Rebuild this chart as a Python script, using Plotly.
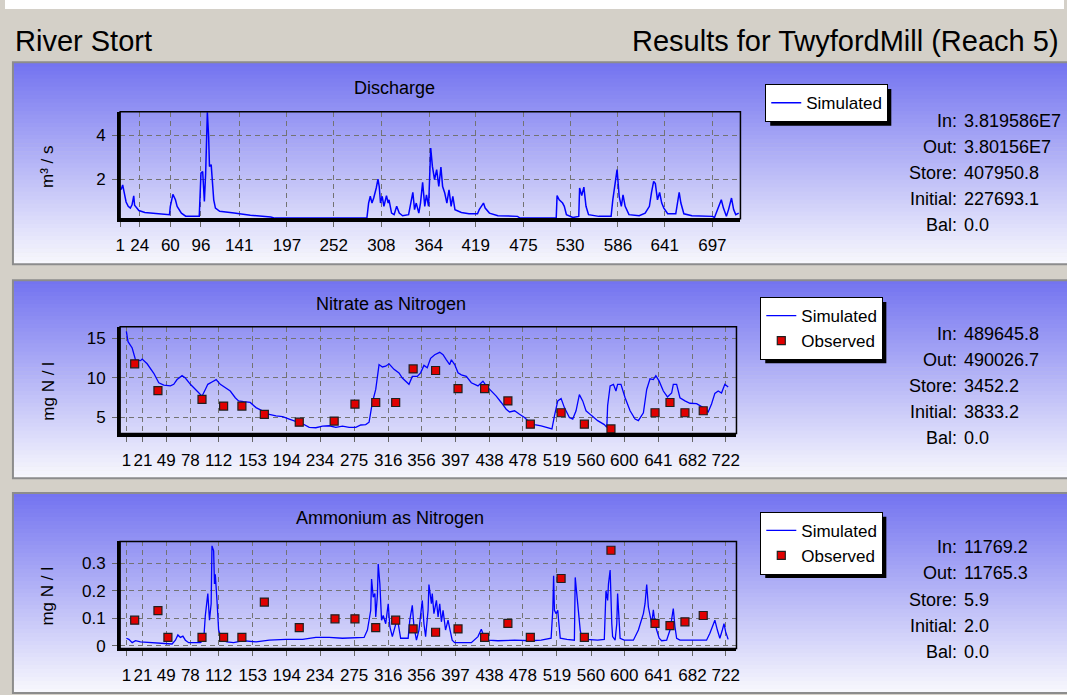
import plotly.graph_objects as go

W, H = 1067, 695

# ---------------- data ----------------
# Discharge (m3/s), simulated
q_days = [1, 2.5, 4, 6, 8, 10.5, 13, 15, 17, 18,
          20, 23, 30, 40, 56, 59, 60, 63, 66, 68,
          73, 78, 94, 96, 98, 100, 101.5, 103.5, 105, 106,
          108, 109, 111, 113, 118, 135, 154, 178, 183, 230,
          291, 293, 295, 297, 299, 302, 304, 305.5, 307, 309,
          311, 314, 316, 317, 320, 323, 326, 329, 333, 340,
          342, 345, 347, 349, 352, 354, 356.5, 359, 361, 363.5,
          366, 368, 370.5, 373, 375.5, 378, 380, 382.5, 385, 387.5,
          390, 392, 394.5, 402, 411, 421, 423, 428, 430, 435,
          445, 468, 471, 513.5, 514.5, 517, 521, 523, 525.5, 533,
          540, 541, 543.5, 546, 548.5, 551.5, 563.5, 578, 580, 582.5,
          585, 587.5, 590, 592, 594.5, 599, 611, 618, 623, 625.5,
          628, 630, 632.5, 635, 637.5, 640, 644.5, 654, 658, 660,
          663.5, 673, 697, 699.5, 704, 707.5, 710, 713.5, 716, 719.5,
          722, 724.5, 728]
q_sim = [1.50, 1.55, 1.73, 1.36, 0.95, 0.75, 0.67, 0.82, 1.23, 0.80,
         0.70, 0.56, 0.47, 0.44, 0.37, 0.37, 0.75, 1.30, 1.05, 0.75,
         0.44, 0.30, 0.30, 2.27, 2.35, 0.97, 2.27, 5.06, 3.95, 2.58,
         2.66, 2.05, 1.05, 0.67, 0.52, 0.44, 0.34, 0.26, 0.21, 0.21,
         0.21, 0.90, 1.21, 0.90, 1.13, 1.59, 2.00, 1.66, 0.90, 1.21,
         0.75, 1.24, 0.90, 1.05, 0.44, 0.37, 0.75, 0.44, 0.32, 0.37,
         0.75, 1.39, 0.60, 0.90, 0.44, 0.90, 1.85, 0.75, 1.28, 0.75,
         3.42, 2.58, 1.97, 2.43, 1.66, 2.55, 1.66, 1.36, 0.90, 1.51,
         0.75, 1.21, 0.60, 0.47, 0.41, 0.41, 0.60, 0.90, 0.67, 0.44,
         0.32, 0.29, 0.21, 0.21, 1.24, 1.05, 0.90, 0.75, 0.37, 0.24,
         0.29, 1.59, 1.24, 1.63, 0.75, 0.37, 0.29, 0.29, 1.05, 1.66,
         2.43, 1.21, 0.75, 1.28, 0.75, 0.37, 0.32, 0.44, 0.75, 1.39,
         1.89, 1.79, 1.05, 1.39, 0.90, 0.67, 0.41, 0.41, 1.39, 0.90,
         0.41, 0.32, 0.29, 0.24, 0.67, 1.05, 0.67, 0.29, 0.60, 1.13,
         0.60, 0.37, 0.44]

# Nitrate as nitrogen (mg N/l)
no3_days = [1, 3, 8, 12, 18, 20, 26, 34, 40, 46,
            54, 58, 62, 68, 72, 78, 86, 92, 96, 99,
            104, 109, 114, 120, 126, 132, 136, 142, 150, 157,
            165, 173, 181, 189, 197, 205, 213, 221, 229, 237,
            245, 253, 261, 269, 277, 283, 289, 293, 297, 301,
            305, 309, 313, 317, 323, 329, 333, 341, 345, 351,
            355, 359, 363, 367, 372, 378, 382, 386, 390, 392,
            396, 400, 404, 410, 416, 424, 430, 434, 440, 446,
            452, 458, 462, 468, 474, 480, 486, 492, 500, 508,
            513, 516, 520, 524, 528, 534, 538, 542, 546, 550,
            554, 560, 568, 576, 579, 580, 583, 587, 590, 592,
            596, 601, 607, 613, 617, 623, 627, 631, 635, 638,
            642, 647, 652, 657, 659, 663, 667, 673, 679, 687,
            695, 701, 705, 709, 713, 717, 721, 725]
no3_sim = [15.9, 14.6, 13.8, 12.3, 12.2, 12.4, 11.8, 10.6, 9.4, 9.1,
           9.0, 9.2, 9.8, 10.3, 10.0, 9.2, 8.35, 7.7, 8.55, 9.2,
           9.5, 9.8, 9.2, 8.8, 8.35, 7.5, 7.1, 7.0, 6.9, 6.25,
           5.85, 5.4, 5.2, 5.1, 4.8, 4.5, 4.2, 3.75, 3.7, 3.9,
           3.95, 3.75, 3.9, 3.75, 3.75, 4.05, 4.1, 4.4, 6.9, 8.55,
           11.7, 11.4, 11.5, 11.8, 11.1, 10.65, 10.0, 9.2, 10.2, 10.2,
           10.65, 11.6, 11.3, 12.5, 12.95, 13.25, 12.95, 12.3, 11.7, 12.3,
           11.7, 10.65, 10.4, 10.2, 9.4, 9.0, 9.6, 9.0, 8.35, 7.7,
           6.9, 6.05, 5.7, 5.85, 5.4, 5.0, 4.4, 4.1, 3.95, 3.75,
           3.55, 5.2, 7.1, 7.4, 6.25, 5.0, 4.8, 5.85, 7.9, 7.1,
           5.85, 5.3, 4.6, 4.1, 3.75, 6.5, 9.0, 9.2, 8.35, 9.2,
           9.2, 7.5, 5.85, 4.8, 4.6, 5.6, 8.55, 9.9, 9.8, 10.3,
           9.6, 8.35, 7.6, 8.1, 9.2, 9.2, 7.5, 7.1, 6.8, 6.75,
           6.25, 5.7, 6.7, 8.05, 8.35, 8.1, 9.2, 8.85]
no3_obs_days = [11, 39, 92, 118, 140, 167, 209, 251, 276, 301, 325, 346,
                373, 400, 432, 460, 487, 524, 552, 584, 637, 655, 673, 695]
no3_obs = [11.8, 8.4, 7.3, 6.45, 6.45, 5.4, 4.4, 4.55, 6.7, 6.9, 6.9, 11.15,
           10.95, 8.65, 8.65, 7.1, 4.15, 5.6, 4.15, 3.55, 5.6, 6.9, 5.6, 5.85]

# Ammonium as nitrogen (mg N/l)
nh4_days = [1, 4, 8, 12, 18, 30, 46, 56, 60, 63,
            66, 69, 72, 76, 90, 94, 96, 99, 101, 103,
            104, 106, 107, 108, 110, 112, 116, 122, 130, 142,
            157, 173, 193, 213, 229, 245, 261, 277, 287, 291,
            295, 296, 298, 300, 301, 303, 304, 306, 308, 310,
            313, 316, 318, 321, 327, 331, 340, 342, 345, 347,
            350, 353, 355, 357, 359, 361, 364, 365, 368, 369,
            371, 374, 376, 378, 380, 382, 385, 388, 390, 393,
            396, 416, 424, 428, 432, 436, 448, 468, 488, 500,
            512, 514, 515, 516, 518, 520, 521, 523, 531, 540,
            541, 543, 545, 547, 549, 554, 568, 576, 578, 580,
            581, 583, 585, 586, 589, 591, 592, 594, 595, 600,
            611, 617, 620, 623, 625, 627, 629, 631, 633, 635,
            637, 639, 642, 645, 651, 655, 657, 659, 661, 663,
            667, 699, 703, 706, 709, 712, 715, 718, 720, 722,
            725]
nh4_sim = [0.027, 0.023, 0.011, 0.018, 0.014, 0.011, 0.006, 0.006, 0.020, 0.039,
           0.030, 0.035, 0.020, 0.011, 0.011, 0.020, 0.110, 0.190, 0.093, 0.153,
           0.364, 0.346, 0.225, 0.260, 0.165, 0.057, 0.020, 0.014, 0.011, 0.018,
           0.014, 0.020, 0.023, 0.023, 0.030, 0.030, 0.027, 0.030, 0.030, 0.057,
           0.129, 0.243, 0.177, 0.190, 0.105, 0.183, 0.298, 0.225, 0.093, 0.110,
           0.080, 0.153, 0.069, 0.033, 0.100, 0.027, 0.027, 0.093, 0.147, 0.069,
           0.020, 0.057, 0.105, 0.165, 0.080, 0.033, 0.129, 0.223, 0.153, 0.190,
           0.117, 0.165, 0.105, 0.153, 0.087, 0.129, 0.057, 0.093, 0.063, 0.020,
           0.011, 0.011, 0.033, 0.060, 0.027, 0.020, 0.018, 0.020, 0.018, 0.020,
           0.027, 0.129, 0.255, 0.129, 0.117, 0.129, 0.093, 0.027, 0.023, 0.020,
           0.249, 0.177, 0.105, 0.057, 0.027, 0.023, 0.020, 0.023, 0.200, 0.165,
           0.225, 0.276, 0.080, 0.033, 0.020, 0.080, 0.190, 0.093, 0.027, 0.020,
           0.020, 0.057, 0.087, 0.117, 0.153, 0.223, 0.141, 0.105, 0.080, 0.131,
           0.080, 0.057, 0.027, 0.018, 0.020, 0.057, 0.105, 0.135, 0.069, 0.027,
           0.020, 0.020, 0.045, 0.069, 0.093, 0.057, 0.027, 0.057, 0.080, 0.050,
           0.023]
nh4_obs_days = [11, 39, 51, 92, 118, 140, 167, 209, 252, 276, 301, 325, 346,
                373, 400, 432, 460, 487, 524, 552, 584, 637, 655, 673, 695]
nh4_obs = [0.093, 0.128, 0.030, 0.030, 0.030, 0.030, 0.159, 0.066, 0.098, 0.098,
           0.066, 0.093, 0.061, 0.049, 0.061, 0.030, 0.081, 0.030, 0.245, 0.030,
           0.348, 0.081, 0.073, 0.087, 0.110]

q_ticks = [1, 24, 60, 96, 141, 197, 252, 308, 364, 419, 475, 530, 586, 641, 697]
wq_ticks = [1, 21, 49, 78, 112, 153, 194, 234, 275, 316, 356, 397, 438, 478,
            519, 560, 600, 641, 682, 722]

stat_labels = ["In:", "Out:", "Store:", "Initial:", "Bal:"]
q_stats = ["3.819586E7", "3.80156E7", "407950.8", "227693.1", "0.0"]
no3_stats = ["489645.8", "490026.7", "3452.2", "3833.2", "0.0"]
nh4_stats = ["11769.2", "11765.3", "5.9", "2.0", "0.0"]

FONT = "Liberation Sans, Arial, sans-serif"
GRAY = "#d4d0c8"


def px(x):
    return x / W


def py(y):
    return 1 - y / H


def gradient_bands(top, bottom, n=50):
    c0 = (116, 116, 240)
    c1 = (247, 247, 253)
    h = (bottom - top) / n
    bands = []
    for i in range(n):
        t = i / (n - 1)
        col = tuple(round(a + (b - a) * t) for a, b in zip(c0, c1))
        bands.append(dict(
            type="rect", xref="paper", yref="paper", layer="below",
            x0=px(8), x1=px(1075),
            y0=py(top + i * h), y1=py(top + (i + 1) * h + 0.6),
            line=dict(width=0),
            fillcolor="rgb(%d,%d,%d)" % col
        ))
    return bands


# legend_wh is the size plotly gives the legend box (used for the shadow)
panels = [
    dict(top=63, bottom=267, plot=(116, 741, 113, 221),
         title="Discharge", title_xy=(392, 89), ylab="m³ / s", ylab_y=168,
         legend_xy=(766, 85), legend_wh=(122, 37),
         stats=q_stats, stat_y0=122),
    dict(top=283, bottom=483, plot=(116, 737, 330, 438),
         title="Nitrate as Nitrogen", title_xy=(389, 307), ylab="mg N / l", ylab_y=395,
         legend_xy=(761, 300), legend_wh=(122, 62),
         stats=no3_stats, stat_y0=337),
    dict(top=498, bottom=700, plot=(116, 737, 547, 655),
         title="Ammonium as Nitrogen", title_xy=(388, 523), ylab="mg N / l", ylab_y=602,
         legend_xy=(761, 517), legend_wh=(122, 62),
         stats=nh4_stats, stat_y0=553),
]

fig = go.Figure()

fig.add_trace(go.Scatter(
    x=q_days, y=q_sim, mode="lines", name="Simulated",
    line=dict(color="#0000ff", width=1.5),
    xaxis="x", yaxis="y", legend="legend"
))
fig.add_trace(go.Scatter(
    x=no3_days, y=no3_sim, mode="lines", name="Simulated",
    line=dict(color="#0000ff", width=1.3),
    xaxis="x2", yaxis="y2", legend="legend2"
))
fig.add_trace(go.Scatter(
    x=no3_obs_days, y=no3_obs, mode="markers", name="Observed",
    marker=dict(symbol="square", size=8, color="#e00000",
                line=dict(color="#202020", width=1.2)),
    xaxis="x2", yaxis="y2", legend="legend2"
))
fig.add_trace(go.Scatter(
    x=nh4_days, y=nh4_sim, mode="lines", name="Simulated",
    line=dict(color="#0000ff", width=1.3),
    xaxis="x3", yaxis="y3", legend="legend3"
))
fig.add_trace(go.Scatter(
    x=nh4_obs_days, y=nh4_obs, mode="markers", name="Observed",
    marker=dict(symbol="square", size=8, color="#e00000",
                line=dict(color="#202020", width=1.2)),
    xaxis="x3", yaxis="y3", legend="legend3"
))

axis_style = dict(
    showgrid=True, gridcolor="#737373", griddash="5px,4px", gridwidth=1,
    showline=True, linecolor="black", linewidth=3, mirror=False,
    ticks="outside", ticklen=5, tickcolor="#666666", tickwidth=1,
    tickfont=dict(family=FONT, size=17, color="black"),
    zeroline=False, tickangle=0, fixedrange=True
)

x_ranges = [[1, 730], [-6.5, 735], [-6.5, 735]]
y_ranges = [[0.18, 5.08], [2.96, 16.5], [-0.01, 0.38]]
x_ticks = [q_ticks, wq_ticks, wq_ticks]
y_ticks = [[2, 4], [5, 10, 15], [0, 0.1, 0.2, 0.3]]
y_text = [["2", "4"], ["5", "10", "15"], ["0", "0.1", "0.2", "0.3"]]

layout_axes = {}
for i, p in enumerate(panels):
    sfx = "" if i == 0 else str(i + 1)
    x0, x1, y0, y1 = p["plot"]
    layout_axes["xaxis" + sfx] = dict(
        axis_style, domain=[px(x0), px(x1)], range=x_ranges[i],
        tickmode="array", tickvals=x_ticks[i],
        ticktext=[str(v) for v in x_ticks[i]],
        anchor="y" + sfx, ticklabelstandoff=4
    )
    layout_axes["yaxis" + sfx] = dict(
        axis_style, domain=[py(y1), py(y0)], range=y_ranges[i],
        tickmode="array", tickvals=y_ticks[i], ticktext=y_text[i],
        anchor="x" + sfx, ticklabelstandoff=3
    )

shapes = [
    dict(type="rect", xref="paper", yref="paper", layer="below",
         x0=0, x1=1, y0=py(9), y1=1, line=dict(width=0), fillcolor="white")
]
annotations = [
    dict(text="River Stort", x=px(8), y=py(41), xref="paper", yref="paper",
         xanchor="left", yanchor="middle", showarrow=False,
         font=dict(family=FONT, size=29, color="black")),
    dict(text="Results for TwyfordMill (Reach 5)", x=px(1064), y=py(41),
         xref="paper", yref="paper", xanchor="right", yanchor="middle",
         showarrow=False, font=dict(family=FONT, size=29, color="black")),
]
legends = {}

for i, p in enumerate(panels):
    sfx = "" if i == 0 else str(i + 1)
    shapes += gradient_bands(p["top"], p["bottom"])
    shapes.append(dict(
        type="rect", xref="paper", yref="paper", layer="below",
        x0=px(8), x1=px(1075), y0=py(p["bottom"]), y1=py(p["top"]),
        line=dict(color="#8c8c8c", width=2), fillcolor="rgba(0,0,0,0)"
    ))
    # thin frame around the plot area
    shapes.append(dict(
        type="rect", xref="x" + sfx + " domain", yref="y" + sfx + " domain",
        x0=0, x1=1, y0=0, y1=1, layer="above",
        line=dict(color="black", width=1.5)
    ))
    # legend drop shadow
    lx, ly = p["legend_xy"]
    lw, lh = p["legend_wh"]
    shapes.append(dict(
        type="rect", xref="paper", yref="paper", layer="below",
        x0=px(lx + 5), x1=px(lx + lw + 5), y0=py(ly + lh + 5), y1=py(ly + 5),
        line=dict(width=0), fillcolor="black"
    ))
    legends["legend" + sfx] = dict(
        x=px(lx), y=py(ly), xanchor="left", yanchor="top",
        bgcolor="white", bordercolor="black", borderwidth=1,
        font=dict(family=FONT, size=17, color="black"),
        itemclick=False, itemdoubleclick=False
    )

    tx, ty = p["title_xy"]
    annotations.append(dict(
        text=p["title"], x=px(tx), y=py(ty), xref="paper", yref="paper",
        xanchor="center", yanchor="middle", showarrow=False,
        font=dict(family=FONT, size=18, color="black")
    ))
    annotations.append(dict(
        text=p["ylab"], x=px(43), y=py(p["ylab_y"]), xref="paper", yref="paper",
        xanchor="center", yanchor="middle", showarrow=False, textangle=-90,
        font=dict(family=FONT, size=17, color="black")
    ))
    for k, (lab, val) in enumerate(zip(stat_labels, p["stats"])):
        yy = p["stat_y0"] + k * 26.3
        annotations.append(dict(
            text=lab, x=px(961), y=py(yy), xref="paper", yref="paper",
            xanchor="right", yanchor="middle", showarrow=False,
            font=dict(family=FONT, size=18, color="black")
        ))
        annotations.append(dict(
            text=val, x=px(964), y=py(yy), xref="paper", yref="paper",
            xanchor="left", yanchor="middle", showarrow=False,
            font=dict(family=FONT, size=18, color="black")
        ))

fig.update_layout(
    width=W, height=H, autosize=False, showlegend=True,
    margin=dict(l=0, r=0, t=0, b=0),
    paper_bgcolor=GRAY, plot_bgcolor="rgba(0,0,0,0)",
    font=dict(family=FONT, size=17, color="black"),
    shapes=shapes, annotations=annotations,
    **layout_axes, **legends
)

# drop the browser's default body margin so the figure fills the window
fig.write_html(
    "out.html",
    config={"displayModeBar": False},
    post_script="document.body.style.margin = '0px';"
)
